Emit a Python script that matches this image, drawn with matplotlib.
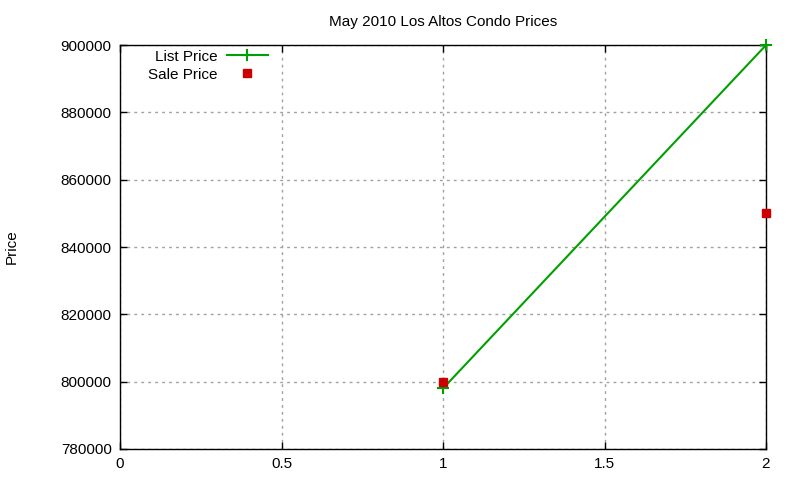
import matplotlib
matplotlib.use("Agg")
import matplotlib.pyplot as plt
from matplotlib.ticker import FixedLocator

list_x = [1, 2]
list_price = [798000, 900000]
sale_x = [1, 2]
sale_price = [800000, 850000]
xticks = [0, 0.5, 1, 1.5, 2]
yticks = [780000, 800000, 820000, 840000, 860000, 880000, 900000]

plt.rcParams['font.family'] = ['Liberation Sans', 'DejaVu Sans']
fig = plt.figure(figsize=(8, 4.8), dpi=100)
ax = fig.add_axes([0.15, 0.0646, 0.8075, 0.8414])

ax.plot(list_x, list_price, color='#00a000', lw=1.5, marker='+', ms=8, mew=1.5,
        label='List Price', clip_on=False, zorder=3)
ax.plot(sale_x, sale_price, ls='none', color='#cc0000', marker='s', ms=6,
        label='Sale Price', clip_on=False, zorder=3)

ax.set_xlim(0, 2)
ax.set_ylim(780000, 900000)
ax.xaxis.set_major_locator(FixedLocator(xticks))
ax.yaxis.set_major_locator(FixedLocator(yticks))
ax.set_xticklabels(['0', '0.5', '1', '1.5', '2'])
ax.set_yticklabels([str(v) for v in yticks])
ax.tick_params(direction='in', length=5, labelsize=11, pad=6, top=True, right=True, width=1)
ax.grid(True, color='#a0a0a0', ls=(0, (2, 3)), lw=1)
for s in ax.spines.values():
    s.set_linewidth(1)
ax.set_title('May 2010 Los Altos Condo Prices', fontsize=11, pad=14)
ax.set_ylabel('Price', fontsize=11, labelpad=30)

leg = ax.legend(loc='upper left', bbox_to_anchor=(0.027, 1.015), frameon=False, markerfirst=False,
                fontsize=11, handlelength=2.7, handletextpad=0.6, labelspacing=0.25, borderaxespad=0.3)
for t in leg.get_texts():
    t.set_ha('right')
leg._legend_box.align = 'right'

fig.savefig('out.png', dpi=100)
